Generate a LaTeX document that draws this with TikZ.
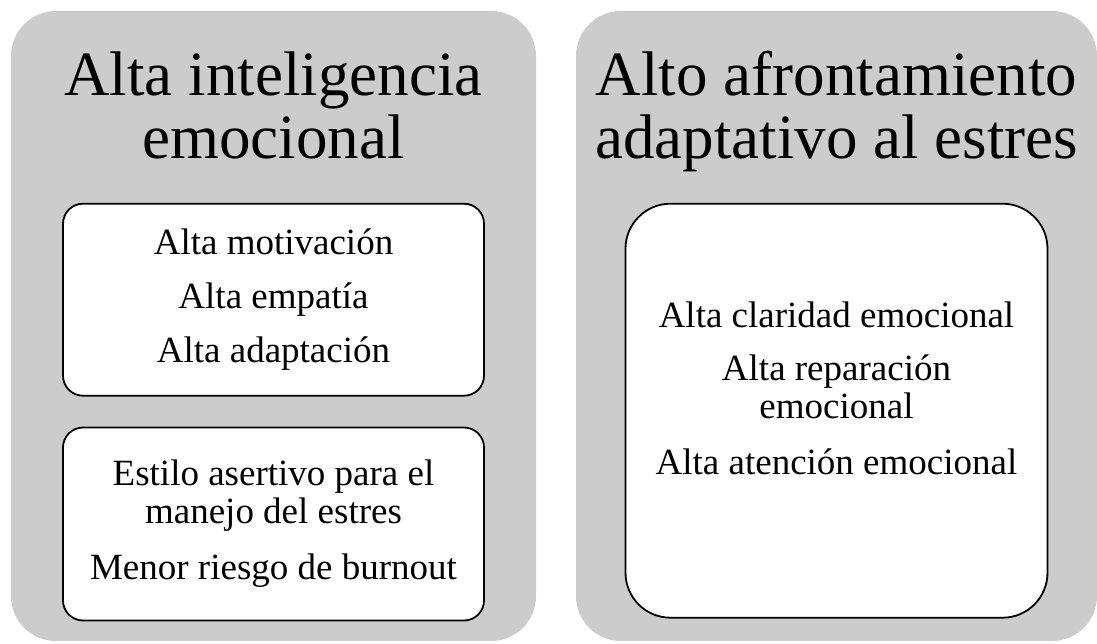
\documentclass[tikz,border=0pt]{standalone}
\usepackage{fontspec}
\setmainfont{Liberation Serif}
\usetikzlibrary{positioning}

\begin{document}
\begin{tikzpicture}[x=1pt,y=-1pt,
        panel/.style={fill=black!20,rounded corners=45pt,inner sep=0pt,
          minimum width=525pt,minimum height=630pt},
        heading/.style={align=center,font=\fontsize{63}{63}\selectfont},
        itembox/.style={draw,line width=1.8pt,fill=white,rounded corners=20pt,
          align=center,inner sep=0pt,minimum width=421pt,
          font=\fontsize{37}{38}\selectfont}]
      \useasboundingbox (0,0) rectangle (1097,643);
      \node[panel] (lpanel) at (273.5,326) {};
      \node[panel,minimum width=521pt] (rpanel) at (836.5,326) {};
      \node[heading] (ltitle) [below=37pt of lpanel.north] {Alta inteligencia\\emocional};
      \node[heading] (rtitle) [below=37pt of rpanel.north] {Alto afrontamiento\\adaptativo al estres};
      \node[itembox,minimum height=192pt] (lbox1) [below=192pt of lpanel.north]
        {Alta motivación\\[16pt]Alta empatía\\[16pt]Alta adaptación};
      \node[itembox,minimum height=193pt] (lbox2) [below=30pt of lbox1]
        {Estilo asertivo para el\\manejo del estres\\[18pt]Menor riesgo de burnout};
      \node[itembox,rounded corners=45pt,minimum width=422pt,minimum height=414pt] (rbox)
        [below=192pt of rpanel.north]
        {Alta claridad emocional\\[15pt]Alta reparación\\emocional\\[18pt]Alta atención emocional\\[8pt]\mbox{}};
    \end{tikzpicture}
\end{document}
